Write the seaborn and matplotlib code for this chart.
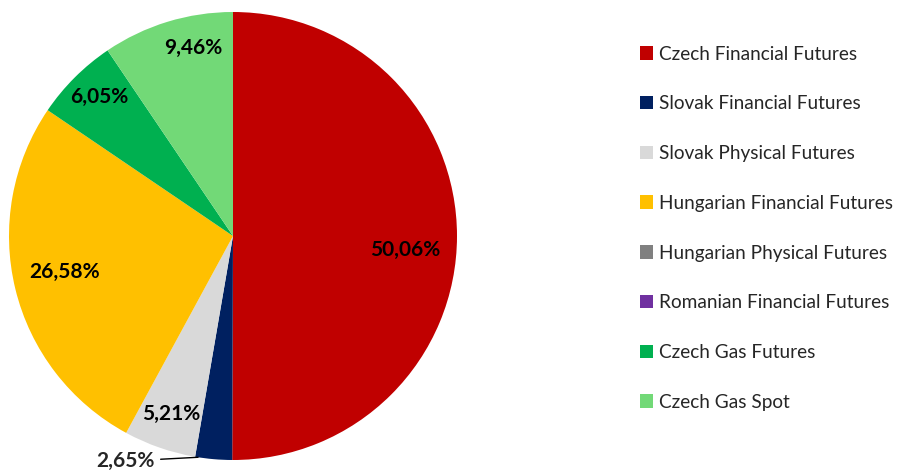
import numpy as np
import matplotlib
matplotlib.use("Agg")
import matplotlib.pyplot as plt
from matplotlib.patches import Patch
import seaborn as sns

# ── Data ──────────────────────────────────────────────────────────────────────
products = ["Czech Financial Futures", "Slovak Financial Futures",
            "Slovak Physical Futures", "Hungarian Financial Futures",
            "Hungarian Physical Futures", "Romanian Financial Futures",
            "Czech Gas Futures", "Czech Gas Spot"]
shares = [50.06, 2.65, 5.21, 26.58, 0.0, 0.0, 6.05, 9.46]
colors = ["#C00000", "#002060", "#D9D9D9", "#FFC000",
          "#808080", "#7030A0", "#00B050", "#72D977"]

sns.set_style("white")
plt.rcParams["font.family"] = ["Lato", "DejaVu Sans"]

fig = plt.figure(figsize=(8.98, 4.70), dpi=100)
ax = fig.add_axes([9 / 898, 10 / 470, 448 / 898, 448 / 470])

wedges, _ = ax.pie(shares, colors=colors, startangle=90, counterclock=False,
                   radius=1.0, wedgeprops=dict(linewidth=0))
ax.set_xlim(-1, 1)
ax.set_ylim(-1, 1)
ax.set_aspect("equal")
ax.axis("off")

# label placement: radius as fraction of pie radius, angle tweak in degrees
label_place = {0: (0.77, -4.5), 2: (0.84, 0), 3: (0.77, -1.5),
               6: (0.86, -1), 7: (0.86, -5)}

for i, (w, v) in enumerate(zip(wedges, shares)):
    if v <= 0:
        continue
    txt = f"{v:.2f}".replace(".", ",") + "%"
    mid = np.deg2rad((w.theta1 + w.theta2) / 2)
    if i in label_place:
        r, da = label_place[i]
        a = mid + np.deg2rad(da)
        ax.text(r * np.cos(a), r * np.sin(a), txt, ha="center", va="center",
                fontsize=15, fontweight="bold", color="black")
    else:
        # small slice: outside label with leader line
        a = mid - np.deg2rad(4)
        ex, ey = np.cos(a), np.sin(a)
        ax.annotate(txt, xy=(ex, ey), xytext=(-0.35, -1.005),
                    ha="right", va="center", fontsize=15, fontweight="bold",
                    annotation_clip=False,
                    arrowprops=dict(arrowstyle="-", color="black", lw=1,
                                    shrinkA=2, shrinkB=0))

handles = [Patch(facecolor=c, edgecolor="none") for c in colors]
fig.legend(handles, products, loc="upper left", bbox_to_anchor=(632 / 898, 1 - 38 / 470),
           frameon=False, fontsize=13.7, handlelength=0.7, handleheight=0.7,
           handletextpad=0.3, labelspacing=1.72, borderaxespad=0)

plt.savefig("out.png", dpi=100)
